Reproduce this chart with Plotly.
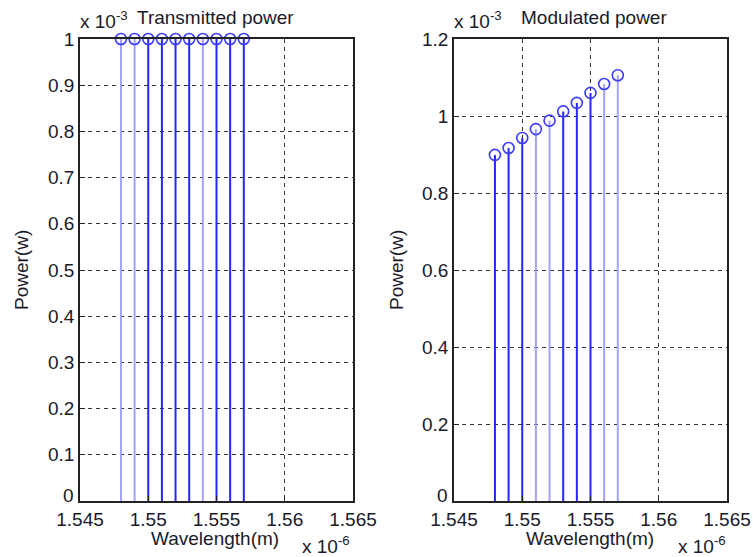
import plotly.graph_objects as go

# Data (wavelength in units of 1e-6 m, power in units of 1e-3 W)
wavelength = [1.548, 1.549, 1.550, 1.551, 1.552, 1.553, 1.554, 1.555, 1.556, 1.557]
transmitted_power = [1, 1, 1, 1, 1, 1, 1, 1, 1, 1]
modulated_power = [0.899, 0.917, 0.943, 0.966, 0.988, 1.012, 1.034, 1.060, 1.083, 1.106]
# stem shade per point (antialiasing appearance in the reference)
left_light = [True, True, False, False, False, False, True, False, False, False]
right_light = [False, False, False, True, True, False, False, False, True, True]

x_ticks = [1.545, 1.55, 1.555, 1.56, 1.565]
x_ticklabels = ["1.545", "1.55", "1.555", "1.56", "1.565"]
left_yticks = [0, 0.1, 0.2, 0.3, 0.4, 0.5, 0.6, 0.7, 0.8, 0.9, 1]
left_yticklabels = ["", "0.1", "0.2", "0.3", "0.4", "0.5", "0.6", "0.7", "0.8", "0.9", "1"]
right_yticks = [0, 0.2, 0.4, 0.6, 0.8, 1, 1.2]
right_yticklabels = ["", "0.2", "0.4", "0.6", "0.8", "1", "1.2"]
zero_label = "0"

DARK = "#2525ff"
LIGHT = "#a3a3ff"
FONT = "Liberation Sans, Arial, sans-serif"
TXT = "#1a1a2a"
FS = 19

fig = go.Figure()


def add_stems(xs, ys, light, xa, ya):
    for flag, col in ((False, DARK), (True, LIGHT)):
        sx, sy = [], []
        for x, y, l in zip(xs, ys, light):
            if l == flag:
                sx += [x, x, None]
                sy += [0, y, None]
        fig.add_trace(go.Scatter(x=sx, y=sy, mode="lines", xaxis=xa, yaxis=ya,
                                 line=dict(color=col, width=2), showlegend=False,
                                 hoverinfo="skip", cliponaxis=False))
    fig.add_trace(go.Scatter(x=xs, y=ys, mode="markers", xaxis=xa, yaxis=ya,
                             marker=dict(symbol="circle-open", size=11, color="#3a3aff",
                                         line=dict(width=1.6)),
                             showlegend=False, cliponaxis=False))


add_stems(wavelength, transmitted_power, left_light, "x", "y")
add_stems(wavelength, modulated_power, right_light, "x2", "y2")

ydom = [1 - 501 / 557, 1 - 39 / 557]
axis_common = dict(
    showline=True, linecolor="#222", linewidth=1.5, mirror=True,
    showgrid=True, gridcolor="#333", griddash="4px,4px", gridwidth=1,
    zeroline=False, ticks="inside", ticklen=5, tickcolor="#222",
    tickfont=dict(family=FONT, size=FS, color=TXT), automargin=False,
)

fig.update_layout(
    width=753, height=557,
    margin=dict(l=0, r=0, t=0, b=0),
    paper_bgcolor="white", plot_bgcolor="white",
    xaxis=dict(domain=[80 / 753, 353 / 753], range=[1.545, 1.565], tickvals=x_ticks,
               ticktext=x_ticklabels, anchor="y", **axis_common),
    yaxis=dict(domain=ydom, range=[0, 1], tickvals=left_yticks,
               ticktext=left_yticklabels, anchor="x", **axis_common),
    xaxis2=dict(domain=[454 / 753, 727 / 753], range=[1.545, 1.565], tickvals=x_ticks,
                ticktext=x_ticklabels, anchor="y2", **axis_common),
    yaxis2=dict(domain=ydom, range=[0, 1.2], tickvals=right_yticks,
                ticktext=right_yticklabels, anchor="x2", **axis_common),
)

ann_font = dict(family=FONT, size=FS, color=TXT)


def ann(text, x, y, xanchor="center", yanchor="middle", angle=0):
    fig.add_annotation(text=text, x=x / 753, y=1 - y / 557, xref="paper", yref="paper",
                       showarrow=False, xanchor=xanchor, yanchor=yanchor,
                       textangle=angle, font=ann_font)


# raised zero labels on y axes (as in reference)
for xr, yr in (("x domain", "y"), ("x2 domain", "y2")):
    fig.add_annotation(text=zero_label, x=0, y=0, xref=xr, yref=yr, showarrow=False,
                       xanchor="right", yanchor="middle", xshift=-4, yshift=6,
                       font=ann_font)

# titles
ann("Transmitted power", 215, 18)
ann("Modulated power", 594, 18)
# exponent labels
ann("x 10<sup>-3</sup>", 78, 20, xanchor="left")
ann("x 10<sup>-3</sup>", 452, 20, xanchor="left")
ann("x 10<sup>-6</sup>", 300, 545, xanchor="left")
ann("x 10<sup>-6</sup>", 676, 545, xanchor="left")
# axis labels
ann("Wavelength(m)", 215, 538)
ann("Wavelength(m)", 590, 538)
ann("Power(w)", 21, 270, angle=-90)
ann("Power(w)", 396, 270, angle=-90)

fig.write_html("out.html")
